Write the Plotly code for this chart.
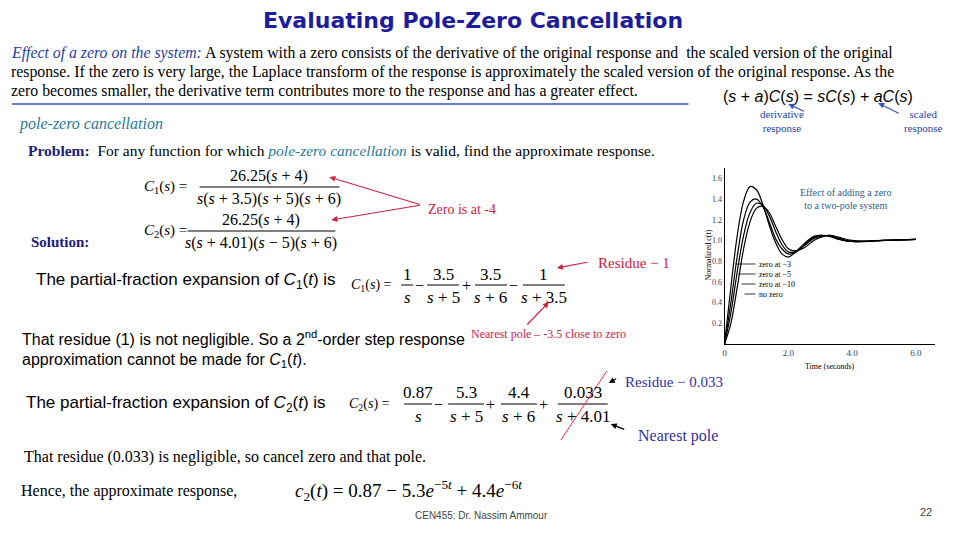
import plotly.graph_objects as go

t = [0, 0.2, 0.4, 0.6, 0.8, 1.0, 1.2, 1.4, 1.6, 1.8, 2.0, 2.2, 2.5, 2.8, 3.0, 3.3, 3.6, 4.0, 5.0, 6.0]
zero3 = [0, 0.55, 1.05, 1.38, 1.52, 1.49, 1.35, 1.15, 0.98, 0.87, 0.84, 0.88, 0.97, 1.04, 1.05, 1.04, 1.01, 0.99, 1.0, 1.01]
zero5 = [0, 0.40, 0.85, 1.20, 1.37, 1.40, 1.33, 1.18, 1.02, 0.92, 0.87, 0.88, 0.96, 1.03, 1.05, 1.04, 1.01, 0.99, 1.0, 1.01]
zero10 = [0, 0.30, 0.70, 1.05, 1.27, 1.36, 1.34, 1.24, 1.09, 0.96, 0.89, 0.89, 0.95, 1.02, 1.04, 1.05, 1.02, 0.99, 1.0, 1.01]
nozero = [0, 0.20, 0.55, 0.92, 1.18, 1.31, 1.33, 1.27, 1.14, 1.01, 0.92, 0.90, 0.93, 1.00, 1.03, 1.05, 1.03, 1.00, 1.0, 1.01]
curve_names = ["zero at −3", "zero at −5", "zero at −10", "no zero"]
xticks = [0, 2, 4, 6]
xticklabels = ["0", "2.0", "4.0", "6.0"]
yticks = [0.2, 0.4, 0.6, 0.8, 1.0, 1.2, 1.4, 1.6]

W, H = 960, 540
OFF = 8
def X(p): return (p - OFF) / W
def Y(p): return 1 - (p - OFF) / H

fig = go.Figure()
for ys, nm in zip([zero3, zero5, zero10, nozero], curve_names):
    fig.add_trace(go.Scatter(x=t, y=ys, mode="lines", line=dict(color="black", width=1.2, shape="spline"),
                             name=nm, showlegend=False, xaxis="x", yaxis="y"))

ann = []
shapes = []
SERIF = "Liberation Serif"

def txt(x, y, s, size=14, color="black", xanchor="left", family=SERIF, yanchor="middle"):
    ann.append(dict(x=X(x), y=Y(y), xref="paper", yref="paper", text=s, showarrow=False,
                    xanchor=xanchor, yanchor=yanchor, font=dict(size=size, color=color, family=family)))

def line(x0, y0, x1, y1, color="black", width=1):
    shapes.append(dict(type="line", xref="paper", yref="paper", x0=X(x0), y0=Y(y0), x1=X(x1), y1=Y(y1),
                       line=dict(color=color, width=width)))

def arrow(x0, y0, x1, y1, color):
    ann.append(dict(x=X(x1), y=Y(y1), ax=x0 - x1, ay=y0 - y1, xref="paper", yref="paper",
                    axref="pixel", ayref="pixel",
                    text="", showarrow=True, arrowhead=2, arrowsize=1, arrowwidth=1.2, arrowcolor=color))

def frac(xc, ymid, num, den, w, size=16):
    txt(xc, ymid - 11, num, size, xanchor="center")
    txt(xc, ymid + 12, den, size, xanchor="center")
    line(xc - w / 2, ymid, xc + w / 2, ymid, "black", 1)

def op(x, y, s, size=16):
    txt(x, y, s, size, xanchor="center")

# title and paragraph
txt(472, 20, "<b>Evaluating Pole-Zero Cancellation</b>", 22, "#1c1c9c", "center", "DejaVu Sans")
txt(7, 53, "<i><span style='color:#1f3f9f'>Effect of a zero on the system:</span></i> A system with a zero consists of the derivative of the original response and  the scaled version of the original", 15.8)
txt(7, 72, "response. If the zero is very large, the Laplace transform of the response is approximately the scaled version of the original response. As the", 15.8)
txt(7, 91, "zero becomes smaller, the derivative term contributes more to the response and has a greater effect.", 15.8)
line(10, 104, 688, 104, "#3355bb", 1.5)
txt(15, 124, "<i>pole-zero cancellation</i>", 16, "#2a7a9a")
txt(720, 96, "(<i>s</i> + <i>a</i>)<i>C</i>(<i>s</i>) = <i>sC</i>(<i>s</i>) + <i>aC</i>(<i>s</i>)", 16, family="Liberation Sans")
txt(758, 121, "derivative<br>response", 11, "#1f3f9f")
txt(902, 121, "scaled<br>response", 11, "#1f3f9f")
arrow(805, 112, 788, 104, "#3355bb")
arrow(900, 114, 878, 103, "#3355bb")
txt(24, 150, "<b><span style='color:#1c1c7c'>Problem:</span></b>  For any function for which <i><span style='color:#2a7a9a'>pole-zero cancellation</span></i> is valid, find the approximate response.", 15.5)

# C1, C2 definitions
txt(140, 187, "<i>C</i><sub>1</sub>(<i>s</i>) =", 15)
frac(268, 187, "26.25(<i>s</i> + 4)", "<i>s</i>(<i>s</i> + 3.5)(<i>s</i> + 5)(<i>s</i> + 6)", 140, 16)
txt(140, 231, "<i>C</i><sub>2</sub>(<i>s</i>) =", 15)
frac(260, 231, "26.25(<i>s</i> + 4)", "<i>s</i>(<i>s</i> + 4.01)(<i>s</i> − 5)(<i>s</i> + 6)", 148, 16)
txt(425, 210, "Zero is at -4", 14, "#cc2244")
arrow(420, 205, 328, 177, "#cc2244")
arrow(420, 205, 330, 220, "#cc2244")
txt(27, 242, "<b>Solution:</b>", 15, "#1c1c7c")

txt(32, 281, "The partial-fraction expansion of <i>C</i><sub>1</sub>(<i>t</i>) is", 17, family="Liberation Sans")
txt(348, 285, "<i>C</i><sub>1</sub>(<i>s</i>) =", 14)
frac(406, 285, "1", "<i>s</i>", 12, 17)
op(418, 285, "−")
frac(442, 285, "3.5", "<i>s</i> + 5", 32, 17)
op(465, 285, "+")
frac(490, 285, "3.5", "<i>s</i> + 6", 32, 17)
op(513, 285, "−")
frac(543, 285, "1", "<i>s</i> + 3.5", 42, 17)
txt(595, 263, "Residue − 1", 15, "#cc2244")
arrow(588, 262, 556, 268, "#cc2244")
txt(18, 338, "That residue (1) is not negligible. So a 2<sup>nd</sup>-order step response", 16, family="Liberation Sans")
txt(18, 360, "approximation cannot be made for <i>C</i><sub>1</sub>(<i>t</i>).", 16, family="Liberation Sans")
txt(468, 334, "Nearest pole – -3.5 close to zero", 12, "#cc2244")
arrow(525, 326, 548, 302, "#cc2244")

txt(22, 404, "The partial-fraction expansion of <i>C</i><sub>2</sub>(<i>t</i>) is", 17, family="Liberation Sans")
txt(346, 404, "<i>C</i><sub>2</sub>(<i>s</i>) =", 14)
frac(417, 404, "0.87", "<i>s</i>", 28, 17)
op(437, 404, "−")
frac(465, 404, "5.3", "<i>s</i> + 5", 36, 17)
op(490, 404, "+")
frac(518, 404, "4.4", "<i>s</i> + 6", 36, 17)
op(543, 404, "+")
frac(582, 404, "0.033", "<i>s</i> + 4.01", 50, 17)
line(560, 440, 606, 371, "#dd3344", 1)
txt(622, 382, "Residue − 0.033", 15, "#3030a0")
arrow(617, 378, 608, 383, "black")
txt(635, 436, "Nearest pole", 16, "#3030a0")
arrow(625, 430, 610, 424, "black")

txt(20, 457, "That residue (0.033) is negligible, so cancel zero and that pole.", 16)
txt(17, 491, "Hence, the approximate response,", 16)
txt(292, 490, "<i>c</i><sub>2</sub>(<i>t</i>) = 0.87 − 5.3<i>e</i><sup>−5<i>t</i></sup> + 4.4<i>e</i><sup>−6<i>t</i></sup>", 19)
txt(480, 515, "CEN455: Dr. Nassim Ammour", 10, "#444444", "center", "Liberation Sans")
txt(926, 512, "22", 11, "#444444", "center", "Liberation Sans")

# chart labels
txt(798, 199, "Effect of adding a zero<br>to a two-pole system", 10, "#1f5f8f")
for i, nm in enumerate(curve_names):
    txt(757, 264 + 10 * i, nm, 8)
    line(735 + 3 * i, 264 + 10 * i, 755, 264 + 10 * i, "black", 0.8)
txt(707, 255, "Normalized c(t)", 8, xanchor="center")
ann[-1]["textangle"] = -90
txt(830, 366, "Time (seconds)", 8, xanchor="center")

fig.update_layout(
    width=W, height=H, margin=dict(l=0, r=0, t=0, b=0),
    paper_bgcolor="white", plot_bgcolor="white",
    annotations=ann, shapes=shapes,
    xaxis=dict(domain=[X(724), X(935)], range=[0, 6.6], tickvals=xticks, ticktext=xticklabels,
               showgrid=False, zeroline=False, showline=True, linecolor="black", ticks="", tickfont=dict(size=9, family=SERIF)),
    yaxis=dict(domain=[Y(344), Y(168)], range=[0, 1.7], tickvals=yticks, showgrid=False, zeroline=False,
               showline=True, linecolor="black", ticks="", tickformat=".1f", tickfont=dict(size=8, family=SERIF)),
)
fig.write_html("out.html")
